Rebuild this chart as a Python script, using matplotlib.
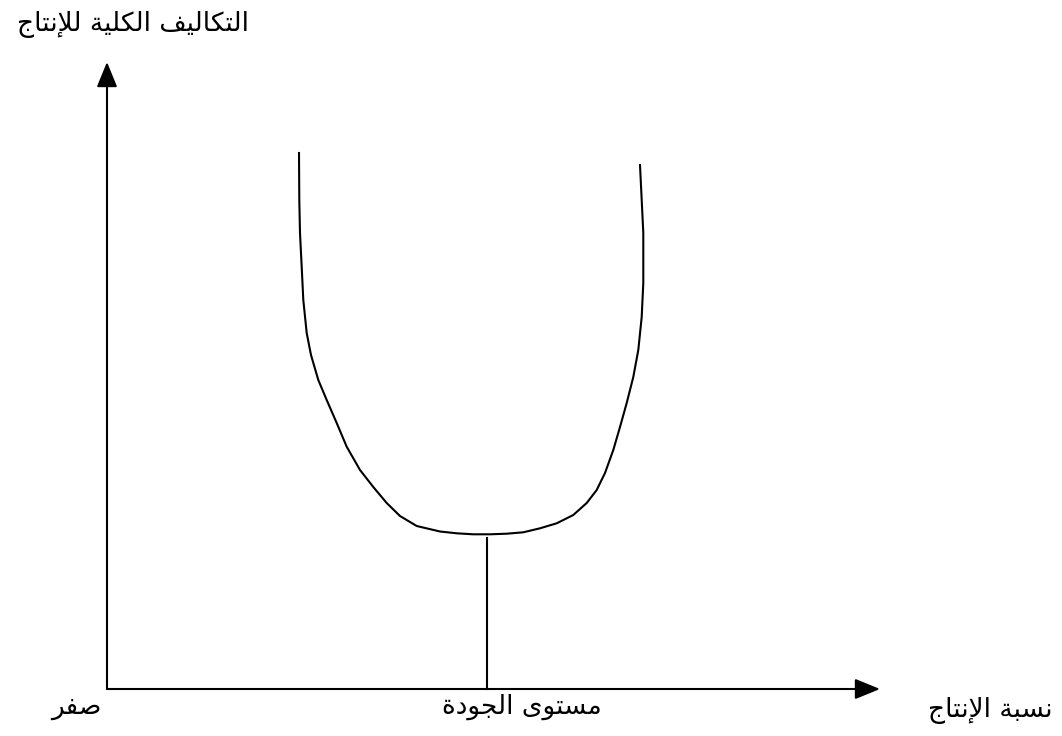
import numpy as np
import matplotlib
matplotlib.use("Agg")
import matplotlib.pyplot as plt

# labels (logical order)
y_label = "التكاليف الكلية للإنتاج"
x_label = "نسبة الإنتاج"
opt_label = "مستوى الجودة"
zero_label = "صفر"

# U-shaped total cost curve (image pixel units)
curve_x = [299, 299.3, 300, 301.7, 303.3, 306.7, 311, 318.3, 326.7, 336.7,
           346.7, 360, 373.3, 386.7, 400, 416.7, 440, 456.7, 473,
           490, 506.7, 523.3, 540, 556.7, 573.3, 586.7, 596.7, 605, 613.3,
           620, 626.7, 633.3, 638.3, 641.7, 643.3, 643.3, 641.7, 640]
curve_y = [153, 200, 233, 267, 300, 333, 355, 380, 400, 423,
           446.7, 470, 487, 503, 516, 526, 531.5, 533.3, 534.3,
           534.3, 533.7, 532.3, 528.3, 523.3, 515, 503, 490, 473, 450,
           427, 403, 377, 350, 317, 283, 233, 200, 165]

# optimum quality level marker
opt_x = 487
opt_y = [538, 689]

# axes
origin = (107, 689)
x_end = 880
y_end = 62

# arabic presentation forms: isolated, final, initial, medial
FORMS = {
    'ا': (0xFE8D, 0xFE8E, None, None),
    'إ': (0xFE87, 0xFE88, None, None),
    'ب': (0xFE8F, 0xFE90, 0xFE91, 0xFE92),
    'ة': (0xFE93, 0xFE94, None, None),
    'ت': (0xFE95, 0xFE96, 0xFE97, 0xFE98),
    'ج': (0xFE9D, 0xFE9E, 0xFE9F, 0xFEA0),
    'د': (0xFEA9, 0xFEAA, None, None),
    'ر': (0xFEAD, 0xFEAE, None, None),
    'س': (0xFEB1, 0xFEB2, 0xFEB3, 0xFEB4),
    'ص': (0xFEB9, 0xFEBA, 0xFEBB, 0xFEBC),
    'ف': (0xFED1, 0xFED2, 0xFED3, 0xFED4),
    'ك': (0xFED9, 0xFEDA, 0xFEDB, 0xFEDC),
    'ل': (0xFEDD, 0xFEDE, 0xFEDF, 0xFEE0),
    'م': (0xFEE1, 0xFEE2, 0xFEE3, 0xFEE4),
    'ن': (0xFEE5, 0xFEE6, 0xFEE7, 0xFEE8),
    'و': (0xFEED, 0xFEEE, None, None),
    'ى': (0xFEEF, 0xFEF0, None, None),
    'ي': (0xFEF1, 0xFEF2, 0xFEF3, 0xFEF4),
}
LAM_ALEF = {'ا': (0xFEFB, 0xFEFC), 'إ': (0xFEF9, 0xFEFA)}


def shape(s):
    units = []
    i = 0
    while i < len(s):
        if s[i] == 'ل' and i + 1 < len(s) and s[i + 1] in LAM_ALEF:
            units.append(('LA', s[i + 1]))
            i += 2
        else:
            units.append((s[i], None))
            i += 1
    out = []
    for k, (c, a) in enumerate(units):
        prev = units[k - 1][0] if k > 0 else None
        nxt = units[k + 1][0] if k + 1 < len(units) else None
        joins_prev = prev in FORMS and FORMS[prev][2] is not None
        if c == 'LA':
            out.append(chr(LAM_ALEF[a][1 if joins_prev else 0]))
            continue
        if c not in FORMS:
            out.append(c)
            continue
        f = FORMS[c]
        joins_next = f[2] is not None and (nxt in FORMS or nxt == 'LA')
        if joins_prev and joins_next:
            form = 3
        elif joins_prev:
            form = 1
        elif joins_next:
            form = 2
        else:
            form = 0
        out.append(chr(f[form]))
    return ''.join(reversed(out))


fig = plt.figure(figsize=(10.62, 7.36), dpi=100)
ax = fig.add_axes([0, 0, 1, 1])
ax.set_xlim(0, 1062)
ax.set_ylim(736, 0)
ax.axis('off')

arrow = dict(arrowstyle='-|>,head_length=1.1,head_width=0.45', color='black', lw=1.5,
             shrinkA=0, shrinkB=0, mutation_scale=14)
ax.annotate('', xy=(origin[0], y_end), xytext=origin, arrowprops=arrow)
ax.annotate('', xy=(x_end, origin[1]), xytext=origin, arrowprops=arrow)

ax.plot(curve_x, curve_y, color='black', lw=1.5, solid_joinstyle='round')
ax.plot([opt_x, opt_x], opt_y, color='black', lw=1.5)

fs = 19
ax.text(249, 24, shape(y_label), ha='right', va='center', fontsize=fs, family='DejaVu Sans')
ax.text(102, 707, shape(zero_label), ha='right', va='center', fontsize=fs, family='DejaVu Sans')
ax.text(602, 707, shape(opt_label), ha='right', va='center', fontsize=fs, family='DejaVu Sans')
ax.text(1053, 711, shape(x_label), ha='right', va='center', fontsize=fs, family='DejaVu Sans')

fig.savefig('out.png', dpi=100)
